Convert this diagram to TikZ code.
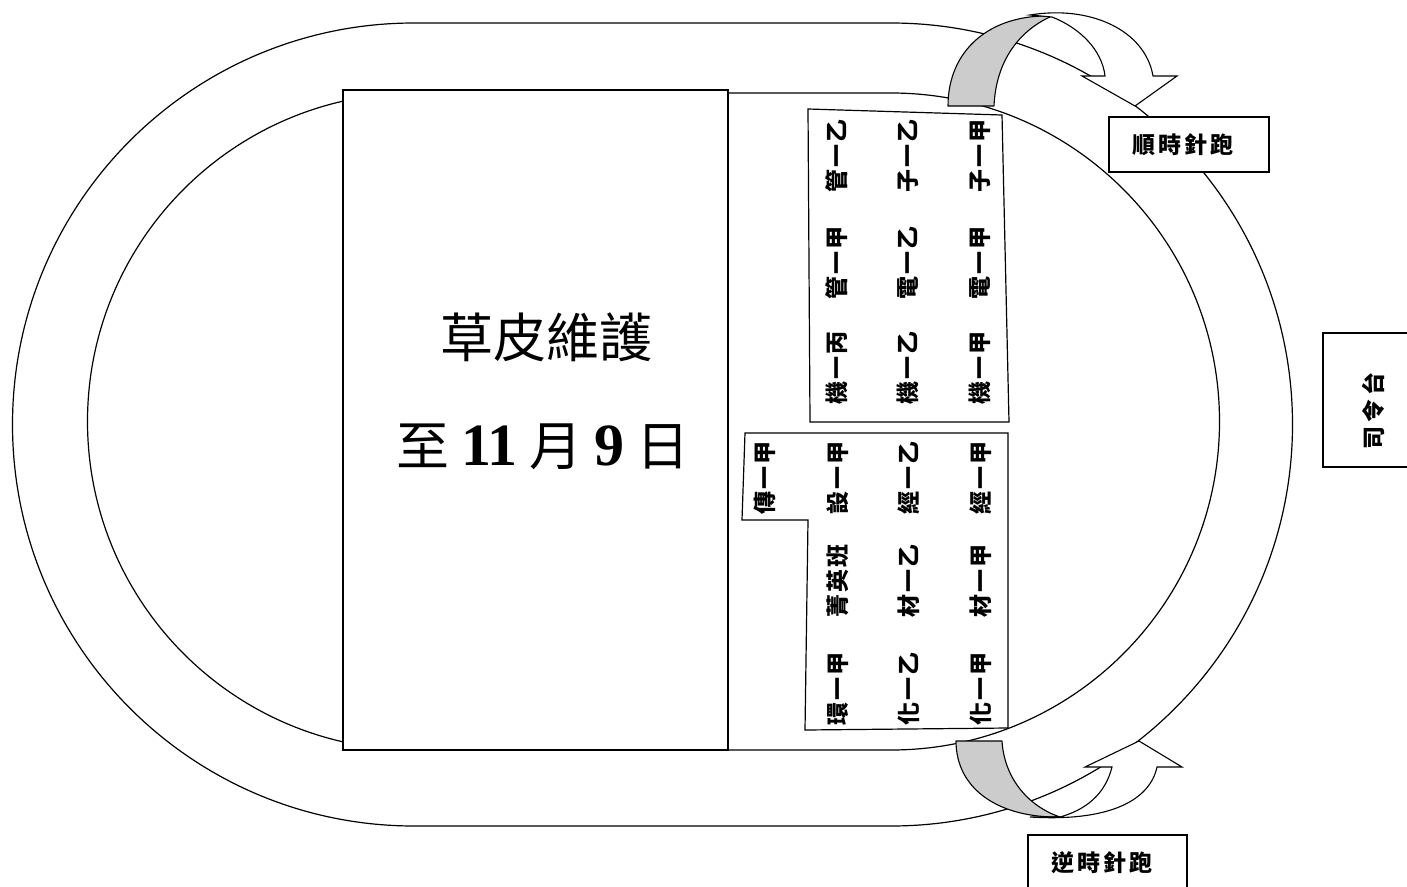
\documentclass[tikz,border=0pt]{standalone}
\usepackage{fontspec}
\setmainfont{Liberation Serif}
\newfontfamily\cjk{Noto Sans CJK TC}
\newcommand{\gapk}{\kern2pt}
\newcommand{\wgap}{\hspace*{12pt}}
\newcommand{\bignum}[1]{{\rmfamily\bfseries\fontsize{60}{66}\selectfont #1}}
\tikzset{
  track/.style={line width=1.2pt},
  field/.style={draw, line width=1.2pt, fill=white, inner sep=0pt},
  zone/.style={draw, line width=1.2pt, fill=white},
  lbl/.style={rotate=90, inner sep=0pt, font=\cjk\bfseries\fontsize{23}{26}\selectfont},
  back/.style={draw, line width=1.1pt, fill=black!20, line join=round},
  front/.style={draw, line width=1.1pt, fill=white, line join=miter},
  tag/.style={draw, line width=1.2pt, fill=white, inner sep=0pt},
  tagtext/.style={font=\cjk\bfseries\fontsize{23}{26}\selectfont, inner sep=0pt},
}
\begin{document}
\begin{tikzpicture}[x=1pt,y=-1pt]
\useasboundingbox (0,0) rectangle (1407,886);
\clip (0,0) rectangle (1407,886);
% track
\draw[track] (414,23) -- (891,23) arc[start angle=-90,end angle=90,radius=401.5]
  -- (414,826) arc[start angle=90,end angle=270,radius=401.5] -- cycle;
\draw[track] (416,93) -- (891,93) arc[start angle=-90,end angle=90,radius=328.5]
  -- (416,750) arc[start angle=90,end angle=270,radius=328.5] -- cycle;
% field
\node[field, minimum width=385pt, minimum height=660pt] (field) at (535.5,420) {};
\node[font=\cjk\fontsize{53}{60}\selectfont, inner sep=0pt] (t1) at (546,337) {草皮維護};
\node[font=\cjk\fontsize{53}{60}\selectfont, inner sep=0pt] (t2) at (543,447)
  {至\wgap\bignum{11}\wgap 月\wgap\bignum{9}\wgap 日};
% zones
\draw[zone] (808,109) -- (1002,115) -- (1009,422) -- (810,422) -- cycle;
\draw[zone] (745,433) -- (1008,433) -- (1008,728) -- (805,730) -- (808,520) -- (742,520) -- cycle;
% upper labels
\node[lbl] (u11) at (837,156) {管\gapk 一\gapk 乙};
\node[lbl] (u12) at (908,156) {子\gapk 一\gapk 乙};
\node[lbl] (u13) at (980,156) {子\gapk 一\gapk 甲};
\node[lbl] (u21) at (837,263) {管\gapk 一\gapk 甲};
\node[lbl] (u22) at (908,263) {電\gapk 一\gapk 乙};
\node[lbl] (u23) at (980,263) {電\gapk 一\gapk 甲};
\node[lbl] (u31) at (837,368) {機\gapk 一\gapk 丙};
\node[lbl] (u32) at (908,368) {機\gapk 一\gapk 乙};
\node[lbl] (u33) at (980,368) {機\gapk 一\gapk 甲};
% lower labels
\node[lbl] (l10) at (765,478) {傳\gapk 一\gapk 甲};
\node[lbl] (l11) at (838,478) {設\gapk 一\gapk 甲};
\node[lbl] (l12) at (909,478) {經\gapk 一\gapk 乙};
\node[lbl] (l13) at (981,478) {經\gapk 一\gapk 甲};
\node[lbl] (l21) at (838,581) {菁\gapk 英\gapk 班};
\node[lbl] (l22) at (909,581) {材\gapk 一\gapk 乙};
\node[lbl] (l23) at (981,581) {材\gapk 一\gapk 甲};
\node[lbl] (l31) at (838,689) {環\gapk 一\gapk 甲};
\node[lbl] (l32) at (909,689) {化\gapk 一\gapk 乙};
\node[lbl] (l33) at (981,689) {化\gapk 一\gapk 甲};
% top curved arrow (clockwise)
\draw[back] (948,106) .. controls (948,50) and (990,14) .. (1052,16)
  .. controls (1020,30) and (996,60) .. (994,106) -- cycle;
\draw[front] (1030,15) .. controls (1090,5) and (1145,30) .. (1153,76)
  -- (1177,76) -- (1135,106) -- (1082,76) -- (1105,76)
  .. controls (1102,50) and (1080,28) .. (1052,17) -- cycle;
% bottom curved arrow (counter-clockwise)
\draw[back] (956,741) .. controls (956,790) and (1000,818) .. (1060,817)
  .. controls (1025,805) and (1004,775) .. (1002,741) -- cycle;
\draw[front] (1030,817) .. controls (1110,822) and (1150,800) .. (1157,767)
  -- (1182,767) -- (1139,741) -- (1085,767) -- (1112,767)
  .. controls (1105,795) and (1085,810) .. (1060,817) -- cycle;
% tags
\node[tag, minimum width=160pt, minimum height=55pt] (cw) at (1189,144.5) {};
\node[tagtext] (cwt) at (1183,145) {順\kern3pt 時\kern3pt 針\kern3pt 跑};
\node[tag, minimum width=159pt, minimum height=70pt] (ccw) at (1107.5,870) {};
\node[tagtext] (ccwt) at (1102,863) {逆\kern3pt 時\kern3pt 針\kern3pt 跑};
\node[tag, minimum width=100pt, minimum height=134pt] (stage) at (1373,400) {};
\node[tagtext, rotate=90] (staget) at (1373,411) {司\kern4pt 令\kern4pt 台};
\end{tikzpicture}
\end{document}
